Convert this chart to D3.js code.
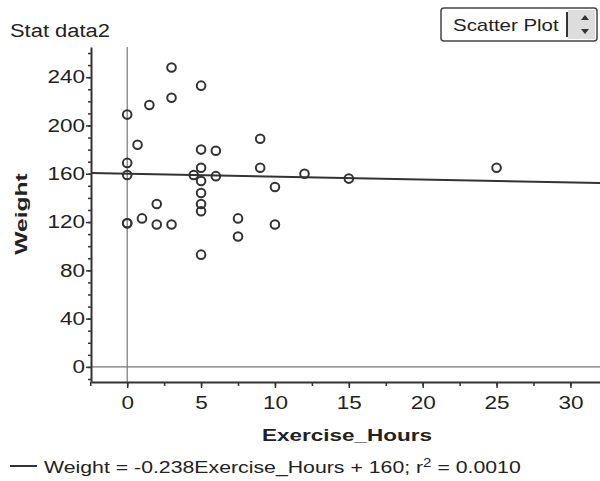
<!DOCTYPE html>
<html>
<head>
<meta charset="utf-8">
<script src="https://cdn.jsdelivr.net/npm/d3@7"></script>
<style>
  body { margin: 0; background: #fff; }
  text { font-family: "Liberation Sans", Arial, sans-serif; fill: #222; }
</style>
</head>
<body>
<div id="chart"></div>
<script>
// data
const exerciseHours = [3, 5, 1.5, 3, 0, 0.7, 5, 6, 9, 0, 0, 5, 4.5, 5, 6, 9, 10, 5,
                       5, 5, 2, 1, 0, 0, 2, 3, 7.5, 7.5, 10, 5, 12, 15, 25];
const weight = [248, 233, 217, 223, 209, 184, 180, 179, 189, 169, 159, 165, 159, 154, 158, 165, 149, 144,
                135, 129, 135, 123, 119, 119, 118, 118, 123, 108, 118, 93, 160, 156, 165];
const xTicks = [0, 5, 10, 15, 20, 25, 30];
const yTicks = [0, 40, 80, 120, 160, 200, 240];
const slope = -0.238, intercept = 160;

const width = 600, height = 481;
const stretch = 1.25; // the scanned text is wider than normal

const svg = d3.select("#chart")
    .append("svg")
    .attr("width", width)
    .attr("height", height);

const x = d3.scaleLinear().domain([-2.45, 32]).range([91, 600]);
const y = d3.scaleLinear().domain([-12.5, 265]).range([382, 47]);

// stretch a text horizontally so it fills a given width
function fit(g, w) {
    const t = g.select("text");
    const bw = t.node().getBBox().width;
    const tr = g.attr("transform") || "";
    g.attr("transform", tr + ` scale(${w / bw},1)`);
}

// reference lines at x = 0 and y = 0
svg.append("line")
    .attr("x1", x(0)).attr("x2", x(0))
    .attr("y1", y.range()[1]).attr("y2", y.range()[0])
    .attr("stroke", "#777").attr("stroke-width", 1.2);
svg.append("line")
    .attr("x1", x.range()[0]).attr("x2", x.range()[1])
    .attr("y1", y(0)).attr("y2", y(0))
    .attr("stroke", "#777").attr("stroke-width", 1.2);

// minor ticks
svg.append("g")
    .attr("transform", `translate(${x.range()[0]},0)`)
    .call(d3.axisLeft(y).tickValues(d3.range(-10, 265, 10)).tickSize(3).tickFormat(""))
    .call(g => g.select(".domain").remove());
svg.append("g")
    .attr("transform", `translate(0,${y.range()[0]})`)
    .call(d3.axisBottom(x).tickValues(d3.range(-2.5, 32, 2.5)).tickSize(4).tickFormat(""))
    .call(g => g.select(".domain").remove());

// main axes
const yAxis = svg.append("g")
    .attr("transform", `translate(${x.range()[0]},0)`)
    .call(d3.axisLeft(y).tickValues(yTicks).tickSize(5).tickSizeOuter(0).tickPadding(1));
const xAxis = svg.append("g")
    .attr("transform", `translate(0,${y.range()[0]})`)
    .call(d3.axisBottom(x).tickValues(xTicks).tickSize(6).tickSizeOuter(0).tickPadding(8));

svg.selectAll(".tick line").attr("stroke", "#333").attr("stroke-width", 1.5);
svg.selectAll(".domain").attr("stroke", "#333").attr("stroke-width", 2);
svg.selectAll(".tick text")
    .style("font-family", "'Liberation Sans', Arial, sans-serif")
    .style("font-size", "18px")
    .attr("fill", "#222");
yAxis.selectAll(".tick text")
    .attr("x", -6 / stretch)
    .attr("transform", `scale(${stretch},1)`);
xAxis.selectAll(".tick text")
    .attr("transform", `scale(${stretch},1)`)
    .attr("x", function () { return 0; });

// regression line
svg.append("path")
    .datum(x.domain())
    .attr("fill", "none")
    .attr("stroke", "#333")
    .attr("stroke-width", 2)
    .attr("d", d3.line().x(d => x(d)).y(d => y(slope * d + intercept)));

// points
svg.append("g")
    .selectAll("circle")
    .data(exerciseHours.map((h, i) => ({ h: h, w: weight[i] })))
    .join("circle")
    .attr("cx", d => x(d.h))
    .attr("cy", d => y(d.w))
    .attr("r", 4.3)
    .attr("fill", "none")
    .attr("stroke", "#333")
    .attr("stroke-width", 2);

// title
const title = svg.append("g").attr("transform", "translate(10,37)");
title.append("text").style("font-size", "18px").text("Stat data2");
fit(title, 100);

// axis labels
const xLab = svg.append("g").attr("transform", "translate(347,441)");
xLab.append("text").attr("text-anchor", "middle").style("font-size", "17px")
    .style("font-weight", "bold").text("Exercise_Hours");
fit(xLab, 170);

const yLab = svg.append("g").attr("transform", "translate(27,214) rotate(-90)");
yLab.append("text").attr("text-anchor", "middle").style("font-size", "17px")
    .style("font-weight", "bold").text("Weight");
fit(yLab, 82);

// legend
svg.append("line")
    .attr("x1", 10).attr("x2", 37).attr("y1", 466).attr("y2", 466)
    .attr("stroke", "#333").attr("stroke-width", 2);
const leg = svg.append("g").attr("transform", "translate(44,473)");
const legText = leg.append("text").style("font-size", "17px");
legText.append("tspan").text("Weight = -0.238Exercise_Hours + 160; r");
legText.append("tspan").attr("dy", -6).style("font-size", "12px").text("2");
legText.append("tspan").attr("dy", 6).text(" = 0.0010");
fit(leg, 477);

// "Scatter Plot" selector box
const sel = svg.append("g");
sel.append("rect")
    .attr("x", 441).attr("y", 8).attr("width", 156).attr("height", 33).attr("rx", 3)
    .attr("fill", "#fff").attr("stroke", "#444").attr("stroke-width", 1.5);
sel.append("rect")
    .attr("x", 568).attr("y", 10).attr("width", 27).attr("height", 29)
    .attr("fill", "#ddd");
sel.append("line")
    .attr("x1", 567).attr("x2", 567).attr("y1", 12).attr("y2", 37)
    .attr("stroke", "#333").attr("stroke-width", 2);
sel.append("path").attr("d", "M581,20 L585,15 L589,20 Z").attr("fill", "#333");
sel.append("path").attr("d", "M581,29 L585,34 L589,29 Z").attr("fill", "#333");
const selLab = sel.append("g").attr("transform", "translate(453,31)");
selLab.append("text").style("font-size", "17px").text("Scatter Plot");
fit(selLab, 106);
</script>
</body>
</html>
